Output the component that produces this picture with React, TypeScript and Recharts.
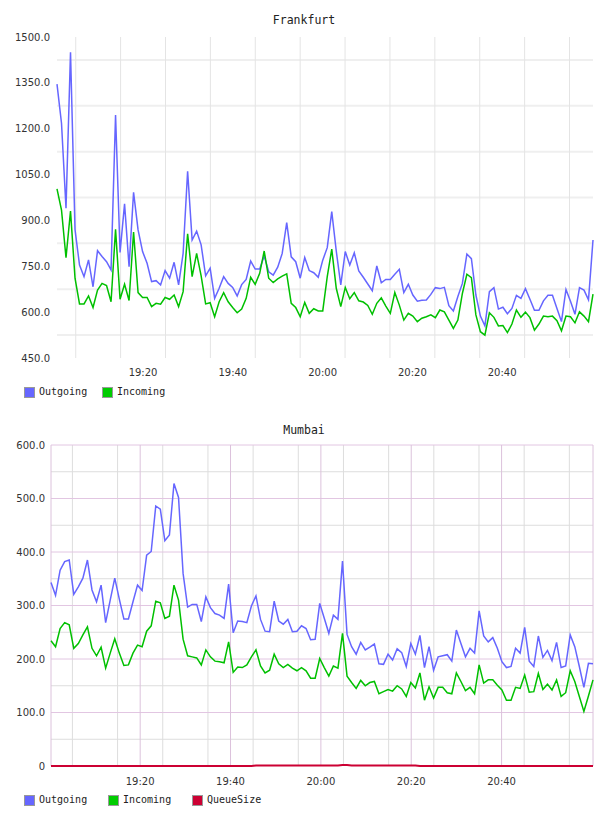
import { LineChart, Line, XAxis, YAxis, CartesianGrid } from 'recharts'

// Frankfurt, one sample roughly every minute from 19:01 to 21:00
const frankfurtStartMin = 0.83
const frankfurtStepMin = 1.0034

const frankfurtOutgoing = [
  1346, 1218, 940, 1450, 870, 754, 716, 771, 683, 801,
  782, 765, 738, 1245, 795, 954, 749, 992, 869, 798,
  760, 700, 703, 689, 736, 711, 763, 689, 792, 1061,
  836, 865, 820, 719, 744, 645, 678, 716, 694, 681,
  653, 690, 707, 767, 741, 741, 784, 732, 721, 747,
  792, 893, 781, 765, 711, 779, 736, 729, 714, 770,
  811, 929, 800, 689, 798, 754, 794, 735, 714, 692,
  670, 751, 696, 707, 707, 724, 740, 664, 691, 656,
  636, 639, 640, 658, 680, 677, 681, 621, 604, 651,
  694, 790, 775, 656, 587, 555, 667, 680, 610, 616,
  595, 612, 655, 645, 677, 642, 606, 606, 637, 655,
  655, 612, 569, 674, 636, 593, 680, 672, 640, 836,
]

const frankfurtIncoming = [
  1003, 934, 778, 931, 711, 627, 627, 653, 615, 672,
  694, 687, 634, 871, 642, 691, 638, 862, 664, 648,
  648, 618, 629, 626, 648, 642, 656, 618, 667, 856,
  716, 792, 719, 627, 631, 585, 634, 664, 634, 615,
  598, 610, 645, 714, 691, 727, 800, 711, 697, 709,
  718, 725, 629, 615, 585, 632, 596, 611, 604, 604,
  716, 806, 678, 618, 681, 644, 664, 637, 633, 622,
  593, 629, 647, 620, 596, 664, 623, 574, 596, 587,
  569, 580, 585, 591, 582, 607, 601, 574, 547, 574,
  661, 724, 713, 591, 536, 525, 598, 583, 555, 556,
  533, 561, 607, 583, 600, 582, 541, 561, 587, 585,
  587, 572, 539, 587, 585, 565, 601, 587, 569, 659,
]

// Mumbai, same window
const mumbaiStartMin = 0.26
const mumbaiStepMin = 1.0082

const mumbaiOutgoing = [
  343, 319, 366, 382, 385, 321, 335, 351, 385, 329,
  307, 338, 268, 310, 351, 312, 275, 275, 307, 338,
  328, 394, 401, 486, 480, 421, 432, 528, 502, 360,
  297, 302, 302, 270, 316, 296, 285, 282, 276, 340,
  249, 271, 270, 268, 299, 318, 274, 252, 251, 308,
  271, 265, 274, 251, 252, 262, 257, 236, 237, 304,
  276, 248, 282, 274, 383, 246, 223, 209, 231, 217,
  222, 228, 191, 190, 209, 198, 219, 212, 186, 229,
  209, 244, 184, 223, 179, 204, 206, 208, 196, 254,
  229, 204, 220, 211, 290, 243, 232, 240, 220, 195,
  184, 186, 220, 211, 259, 196, 186, 243, 203, 216,
  197, 231, 184, 187, 245, 223, 186, 147, 192, 191,
]

const mumbaiIncoming = [
  234, 223, 257, 268, 264, 220, 229, 245, 260, 220,
  206, 222, 183, 211, 238, 211, 188, 189, 211, 226,
  223, 252, 262, 308, 305, 276, 280, 338, 310, 237,
  206, 204, 202, 189, 217, 204, 196, 195, 193, 232,
  175, 185, 184, 189, 204, 217, 187, 174, 179, 209,
  191, 184, 190, 183, 178, 184, 178, 164, 164, 201,
  184, 168, 187, 183, 248, 168, 156, 145, 160, 150,
  156, 158, 135, 139, 143, 140, 150, 144, 130, 156,
  146, 174, 123, 148, 127, 147, 147, 137, 135, 174,
  158, 141, 147, 135, 189, 155, 161, 161, 151, 142,
  123, 123, 147, 145, 170, 138, 139, 173, 143, 153,
  142, 161, 130, 137, 178, 158, 130, 102, 131, 161,
]

const mumbaiQueueSize = [
  0, 0, 0, 0, 0, 0, 0, 0, 0, 0,
  0, 0, 0, 0, 0, 0, 0, 0, 0, 0,
  0, 0, 0, 0, 0, 0, 0, 0, 0, 0,
  0, 0, 0, 0, 0, 0, 0, 0, 0, 0,
  0, 0, 0, 0, 0, 1, 1, 1, 1, 1,
  1, 1, 1, 1, 1, 1, 1, 1, 1, 1,
  1, 1, 1, 1, 2, 2, 1, 1, 1, 1,
  1, 1, 1, 1, 1, 1, 1, 1, 1, 1,
  1, 0, 0, 0, 0, 0, 0, 0, 0, 0,
  0, 0, 0, 0, 0, 0, 0, 0, 0, 0,
  0, 0, 0, 0, 0, 0, 0, 0, 0, 0,
  0, 0, 0, 0, 0, 0, 0, 0, 0, 0,
]

// axis ticks (minutes after 19:00 on x)
const timeTicks = [20, 40, 60, 80, 100]
const fiveMinuteMarks = [5, 10, 15, 20, 25, 30, 35, 40, 45, 50, 55, 60, 65, 70, 75, 80, 85, 90, 95, 100, 105, 110, 115]
const minorMinuteMarks = fiveMinuteMarks.filter((m) => m % 20 !== 0)
const frankfurtTicks = [450, 600, 750, 900, 1050, 1200, 1350, 1500]
const frankfurtGridY = [525, 675, 825, 975, 1125, 1275, 1425]
const mumbaiTicks = [0, 100, 200, 300, 400, 500, 600]
const mumbaiMajorY = [100, 200, 300, 400, 500, 600]
const mumbaiMinorY = [50, 150, 250, 350, 450, 550]

const OUT_COLOR = '#6666ff'
const IN_COLOR = '#00c000'
const QUEUE_COLOR = '#cc0033'

const sans = '"DejaVu Sans", sans-serif'
const mono = '"DejaVu Sans Mono", monospace'
const tickStyle = { fontFamily: sans, fontSize: 10, fill: '#333' }

const fmtTime = (m: number) => {
  const total = 19 * 60 + Math.round(m)
  const h = Math.floor(total / 60)
  const mm = total % 60
  return `${h}:${mm < 10 ? '0' : ''}${mm}`
}

function FrankfurtChart() {
  const rows = frankfurtOutgoing.map((v, i) => ({
    t: frankfurtStartMin + i * frankfurtStepMin,
    outgoing: v,
    incoming: frankfurtIncoming[i],
  }))
  return (
    <LineChart width={608} height={400} data={rows} margin={{ top: 37, right: 15, bottom: 0, left: 0 }}>
      <CartesianGrid vertical={false} horizontalValues={frankfurtGridY} stroke="#efefef" strokeWidth={2} />
      <CartesianGrid horizontal={false} verticalValues={fiveMinuteMarks} stroke="#e4e4e4" />
      <XAxis
        type="number"
        dataKey="t"
        domain={[rows[0].t, rows[rows.length - 1].t]}
        ticks={timeTicks}
        tickFormatter={fmtTime}
        axisLine={false}
        tickLine={false}
        tickSize={0}
        tickMargin={11}
        height={42}
        tick={tickStyle}
      />
      <YAxis
        domain={[450, 1500]}
        ticks={frankfurtTicks}
        tickFormatter={(v: number) => v.toFixed(1)}
        width={57}
        axisLine={false}
        tickLine={false}
        tickSize={0}
        tickMargin={7}
        tick={tickStyle}
      />
      <Line type="linear" dataKey="outgoing" stroke={OUT_COLOR} strokeWidth={1.5} dot={false} isAnimationActive={false} />
      <Line type="linear" dataKey="incoming" stroke={IN_COLOR} strokeWidth={1.5} dot={false} isAnimationActive={false} />
    </LineChart>
  )
}

function MumbaiChart() {
  const rows = mumbaiOutgoing.map((v, i) => ({
    t: mumbaiStartMin + i * mumbaiStepMin,
    outgoing: v,
    incoming: mumbaiIncoming[i],
    queue: mumbaiQueueSize[i],
  }))
  const first = rows[0].t
  const last = rows[rows.length - 1].t
  return (
    <LineChart width={608} height={400} data={rows} margin={{ top: 37, right: 15, bottom: 0, left: 0 }}>
      <CartesianGrid vertical={false} horizontalValues={mumbaiMinorY} stroke="#dddddd" />
      <CartesianGrid horizontal={false} verticalValues={minorMinuteMarks} stroke="#dddddd" />
      <CartesianGrid vertical={false} horizontalValues={mumbaiMajorY} stroke="#e2c6e2" />
      <CartesianGrid horizontal={false} verticalValues={[first, ...timeTicks, last]} stroke="#dcc2dc" />
      <XAxis
        type="number"
        dataKey="t"
        domain={[first, last]}
        ticks={timeTicks}
        tickFormatter={fmtTime}
        axisLine={false}
        tickLine={false}
        tickSize={0}
        tickMargin={12}
        height={42}
        tick={tickStyle}
      />
      <YAxis
        domain={[0, 600]}
        ticks={mumbaiTicks}
        tickFormatter={(v: number) => (v === 0 ? '0' : v.toFixed(1))}
        width={51}
        axisLine={false}
        tickLine={false}
        tickSize={0}
        tickMargin={6}
        tick={tickStyle}
      />
      <Line type="linear" dataKey="outgoing" stroke={OUT_COLOR} strokeWidth={1.5} dot={false} isAnimationActive={false} />
      <Line type="linear" dataKey="incoming" stroke={IN_COLOR} strokeWidth={1.5} dot={false} isAnimationActive={false} />
      <Line type="linear" dataKey="queue" stroke={QUEUE_COLOR} strokeWidth={2} dot={false} isAnimationActive={false} />
    </LineChart>
  )
}

type LegendItem = { name: string; color: string; left: number }

function SeriesLegend({ items, top }: { items: LegendItem[]; top: number }) {
  return (
    <>
      {items.map((it) => (
        <div
          key={it.name}
          style={{ position: 'absolute', left: it.left, top: top - 6, height: 12, display: 'flex', alignItems: 'center' }}
        >
          <span style={{ width: 9, height: 9, background: it.color, border: '1px solid #999', display: 'inline-block' }} />
          <span style={{ marginLeft: 4, fontFamily: mono, fontSize: 10, color: '#222', lineHeight: '12px' }}>{it.name}</span>
        </div>
      ))}
    </>
  )
}

function Title({ text, y }: { text: string; y: number }) {
  return (
    <div
      style={{
        position: 'absolute',
        left: 0,
        top: y - 7,
        width: 608,
        textAlign: 'center',
        fontFamily: mono,
        fontSize: 11.5,
        lineHeight: '14px',
        color: '#222',
      }}
    >
      {text}
    </div>
  )
}

export default function App() {
  return (
    <div style={{ position: 'absolute', left: 0, top: 0, width: 608, height: 816, background: '#fff', overflow: 'hidden' }}>
      <div style={{ position: 'absolute', left: 0, top: 0 }}>
        <FrankfurtChart />
      </div>
      <div style={{ position: 'absolute', left: 0, top: 408 }}>
        <MumbaiChart />
      </div>
      <Title text="Frankfurt" y={20} />
      <Title text="Mumbai" y={430} />
      <SeriesLegend
        top={392}
        items={[
          { name: 'Outgoing', color: OUT_COLOR, left: 24 },
          { name: 'Incoming', color: '#00cc00', left: 102 },
        ]}
      />
      <SeriesLegend
        top={800}
        items={[
          { name: 'Outgoing', color: OUT_COLOR, left: 24 },
          { name: 'Incoming', color: '#00cc00', left: 108 },
          { name: 'QueueSize', color: QUEUE_COLOR, left: 192 },
        ]}
      />
    </div>
  )
}
